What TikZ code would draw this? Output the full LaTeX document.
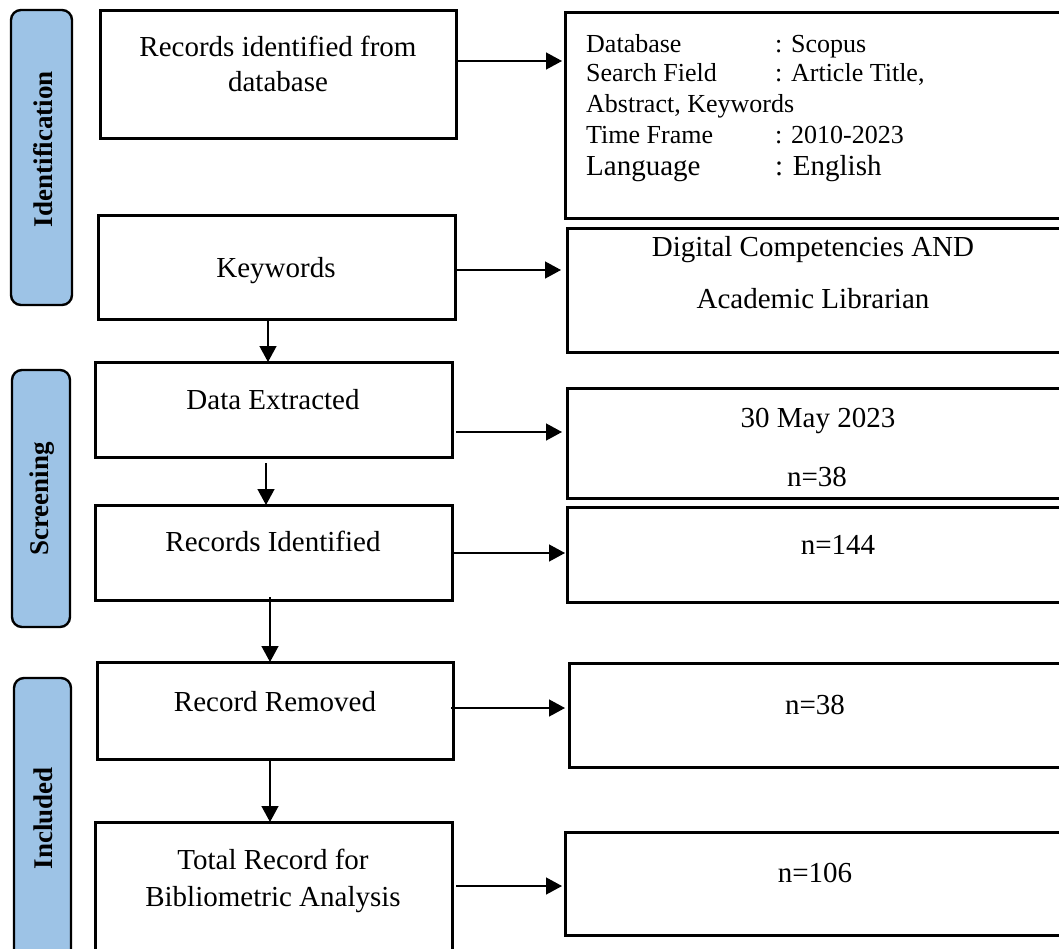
\documentclass[tikz,border=0pt]{standalone}
\usepackage{fontspec}
\setmainfont{Liberation Serif}
\usetikzlibrary{arrows.meta}
\definecolor{phaseblue}{RGB}{157,195,230}
\begin{document}
\begin{tikzpicture}[x=1pt,y=-1pt,
  box/.style={draw=black,line width=3pt,inner sep=0pt,outer sep=0pt},
  phase/.style={draw=black,line width=2.4pt,fill=phaseblue,rounded corners=10pt,inner sep=0pt,outer sep=0pt},
  phasetxt/.style={rotate=90,inner sep=0pt,font=\fontsize{27}{30}\selectfont\bfseries},
  txt/.style={inner sep=0pt,text height=19pt,text depth=0pt,font=\fontsize{29}{34}\selectfont},
  stxt/.style={inner sep=0pt,anchor=base west,font=\fontsize{26}{30}\selectfont},
  arr/.style={line width=1.4pt,-{Triangle[length=16pt,width=17pt]}}]
\useasboundingbox (0,0) rectangle (1059,948);
\clip (0,0) rectangle (1059,948);
% phase labels
\node[phase,minimum width=61pt,minimum height=295pt] (lid) at (41.5,157.5) {};
\node[phasetxt] (tid) at (43,149) {Identification};
\node[phase,minimum width=58pt,minimum height=257pt] (lsc) at (41,498.5) {};
\node[phasetxt] (tsc) at (42,499) {Screening};
\node[phase,minimum width=57pt,minimum height=292pt] (lin) at (42.5,824) {};
\node[phasetxt] (tin) at (43,818) {Included};
% left boxes
\node[box,minimum width=356pt,minimum height=128pt] (rid) at (278,74) {};
\node[box,minimum width=357pt,minimum height=104pt] (kw) at (276.5,267) {};
\node[box,minimum width=357pt,minimum height=95pt] (de) at (273.5,409.5) {};
\node[box,minimum width=357pt,minimum height=95pt] (ri) at (273.5,552.5) {};
\node[box,minimum width=356pt,minimum height=97pt] (rr) at (275,710.5) {};
\node[box,minimum width=357pt,minimum height=148pt] (tr) at (273.5,896) {};
% right boxes
\node[box,minimum width=505pt,minimum height=206pt] (rb1) at (817.5,115) {};
\node[box,minimum width=503pt,minimum height=124pt] (rb2) at (818.5,290) {};
\node[box,minimum width=503pt,minimum height=110pt] (rb3) at (818.5,443) {};
\node[box,minimum width=503pt,minimum height=95pt] (rb4) at (818.5,554.5) {};
\node[box,minimum width=501pt,minimum height=104pt] (rb5) at (819.5,715) {};
\node[box,minimum width=505pt,minimum height=103pt] (rb6) at (817.5,883.5) {};
% left texts
\node[txt] (t1a) at (278,47) {Records identified from};
\node[txt] (t1b) at (278,82) {database};
\node[txt] (t2) at (276,268) {Keywords};
\node[txt] (t3) at (273,400) {Data Extracted};
\node[txt] (t4) at (273,542) {Records Identified};
\node[txt] (t5) at (275,702) {Record Removed};
\node[txt] (t6a) at (273,860) {Total Record for};
\node[txt] (t6b) at (273,897) {Bibliometric Analysis};
% right box 1 texts
\node[stxt] (s1) at (586,52) {Database};
\node[stxt] (s1c) at (775,52) {: Scopus};
\node[stxt] (s2) at (586,81) {Search Field};
\node[stxt] (s2c) at (775,81) {: Article Title,};
\node[stxt] (s3) at (586,112) {Abstract, Keywords};
\node[stxt] (s4) at (586,143) {Time Frame};
\node[stxt] (s4c) at (775,143) {: 2010-2023};
\node[stxt,font=\fontsize{29}{34}\selectfont] (s5) at (586,175) {Language};
\node[stxt,font=\fontsize{29}{34}\selectfont] (s5c) at (775,175) {: English};
% right texts
\node[txt] (r2a) at (813,247) {Digital Competencies AND};
\node[txt] (r2b) at (813,299) {Academic Librarian};
\node[txt] (r3a) at (818,418) {30 May 2023};
\node[txt] (r3b) at (817,477) {n=38};
\node[txt] (r4) at (838,545) {n=144};
\node[txt] (r5) at (815,705) {n=38};
\node[txt] (r6) at (815,873) {n=106};
% arrow guide coordinates
\coordinate (v1) at (268,0);
\coordinate (v2) at (266,0);
\coordinate (v3) at (270,0);
\coordinate (v4) at (270,0);
\coordinate (h1) at (0,61);
\coordinate (h2) at (0,270);
\coordinate (h3) at (0,432);
\coordinate (h4) at (0,553);
\coordinate (h5) at (0,708);
\coordinate (h6) at (0,886);
% vertical connectors
\draw[arr] (kw.south -| v1) -- (de.north -| v1);
\draw[arr,shorten <=6pt] (de.south -| v2) -- (ri.north -| v2);
\draw[arr,shorten <=-3pt] (ri.south -| v3) -- (rr.north -| v3);
\draw[arr] (rr.south -| v4) -- (tr.north -| v4);
% horizontal connectors
\draw[arr,shorten >=3pt] (rid.east |- h1) -- (rb1.west |- h1);
\draw[arr,shorten >=6pt] (kw.east |- h2) -- (rb2.west |- h2);
\draw[arr,shorten <=4pt,shorten >=5pt] (de.east |- h3) -- (rb3.west |- h3);
\draw[arr,shorten >=2pt] (ri.east |- h4) -- (rb4.west |- h4);
\draw[arr,shorten <=-2pt,shorten >=4pt] (rr.east |- h5) -- (rb5.west |- h5);
\draw[arr,shorten <=4pt,shorten >=3pt] (tr.east |- h6) -- (rb6.west |- h6);
\end{tikzpicture}
\end{document}
